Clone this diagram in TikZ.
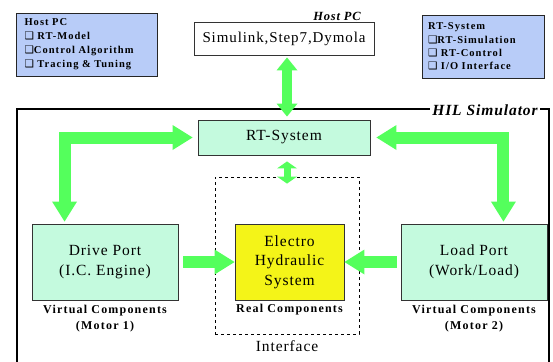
\documentclass[tikz,border=0pt]{standalone}
\usepackage{fontspec}
\setmainfont{Liberation Serif}[LetterSpace=6]
\newfontfamily\labelfont{Liberation Serif}[LetterSpace=10]
\newfontfamily\symfont{DejaVu Sans}
\usetikzlibrary{arrows.meta, positioning}

\definecolor{flowgreen}{RGB}{84,255,92}
\definecolor{mint}{RGB}{196,250,222}
\definecolor{paleblue}{RGB}{184,204,248}
\definecolor{hydyellow}{RGB}{244,244,24}
\newcommand{\opt}{{\symfont\bfseries\fontsize{10.5}{10}\selectfont ❑}}

\begin{document}
\begin{tikzpicture}[
    x=1pt, y=-1pt,
    block/.style={rectangle, draw=black!80, line width=0.9pt, align=center, font=\fontsize{15.5}{20}\selectfont},
    port/.style={block, fill=mint, minimum width=146pt, minimum height=76pt},
    infobox/.style={rectangle, draw=black!85, line width=0.9pt, fill=paleblue, align=left, minimum height=63pt, font=\labelfont\bfseries\fontsize{10.5}{14}\selectfont},
    caption/.style={align=center, inner sep=1pt, font=\labelfont\bfseries\fontsize{12}{16}\selectfont},
    tag/.style={fill=white, inner sep=2pt, font=\bfseries\itshape},
    flow/.style={draw=flowgreen, line width=12pt, line join=miter, >={Triangle[width=25pt, length=20pt, line width=0pt]}},
    link/.style={draw=flowgreen, line width=10pt, >={Triangle[width=21pt, length=13pt, line width=0pt]}},
    shortlink/.style={draw=flowgreen, line width=7pt, >={Triangle[width=20pt, length=7pt, line width=0pt]}},
]
\useasboundingbox (0,0) rectangle (553,361);

% simulator frame, open at the bottom
\draw[line width=2.6pt] (17,362) |- (549,109) -- (549,362);

% host side
\node[infobox, minimum width=141pt, text width=124pt, inner xsep=8pt] (hostpc) at (86.5,44.5) {%
Host PC\\%
\opt{} RT-Model\\%
\opt{}Control Algorithm\\%
\opt{} Tracing \& Tuning};
\node[block, minimum width=180pt, minimum height=33pt, font=\fontsize{15}{18}\selectfont] (tools) at (284,38.5) {Simulink,Step7,Dymola};
\node[tag, font=\bfseries\itshape\fontsize{12.5}{14}\selectfont] (hosttag) at (337,16) {Host PC};
\node[infobox, minimum width=122pt, text width=110pt, inner xsep=6pt, font=\labelfont\bfseries\fontsize{10.5}{13.3}\selectfont] (rtinfo) at (483,46.5) {%
RT-System\\%
\opt{}RT-Simulation\\%
\opt{} RT-Control\\%
\opt{} I/O Interface};

% inside the simulator
\node[tag, font=\bfseries\itshape\fontsize{15.5}{18}\selectfont] (hiltag) at (485,110) {HIL Simulator};
\node[block, fill=mint, minimum width=172pt, minimum height=35pt] (rt) at (284,137.5) {RT-System};
\node[draw, dashed, line width=0.8pt, minimum width=144pt, minimum height=157pt] (iface) at (287,255.5) {};
\node[block, below=5pt of iface, draw=none, inner sep=1pt] (ifacelbl) {Interface};
\node[block, fill=hydyellow, minimum width=109pt, minimum height=76pt, font=\fontsize{15.5}{19.5}\selectfont] (ehs) at (289.5,262) {Electro\\Hydraulic\\System};
\node[caption, below=3pt of ehs] (real) {Real Components};
\node[port] (drive) at (105,262) {Drive Port\\(I.C. Engine)};
\node[caption, below=4pt of drive] (vc1) {Virtual Components\\(Motor 1)};
\node[port] (load) at (474,262) {Load Port\\(Work/Load)};
\node[caption, below=4pt of load] (vc2) {Virtual Components\\(Motor 2)};

% data paths
\draw[link, <->] ([xshift=3pt, yshift=-2pt]tools.south) -- ([xshift=3pt, yshift=3pt]rt.north);
\draw[shortlink, <->] ([xshift=3pt, yshift=-6pt]rt.south) -- ([yshift=-7pt]iface.north);
\draw[flow, <->] ([xshift=-5pt]rt.west) -| ([xshift=33pt, yshift=2pt]drive.north west);
\draw[flow, <->] ([xshift=6pt]rt.east) -| ([xshift=-44pt, yshift=2pt]load.north east);
\draw[flow, ->] ([xshift=5pt]drive.east) -- (ehs.west);
\draw[flow, ->] ([xshift=-4pt]load.west) -- (ehs.east);
\end{tikzpicture}
\end{document}
